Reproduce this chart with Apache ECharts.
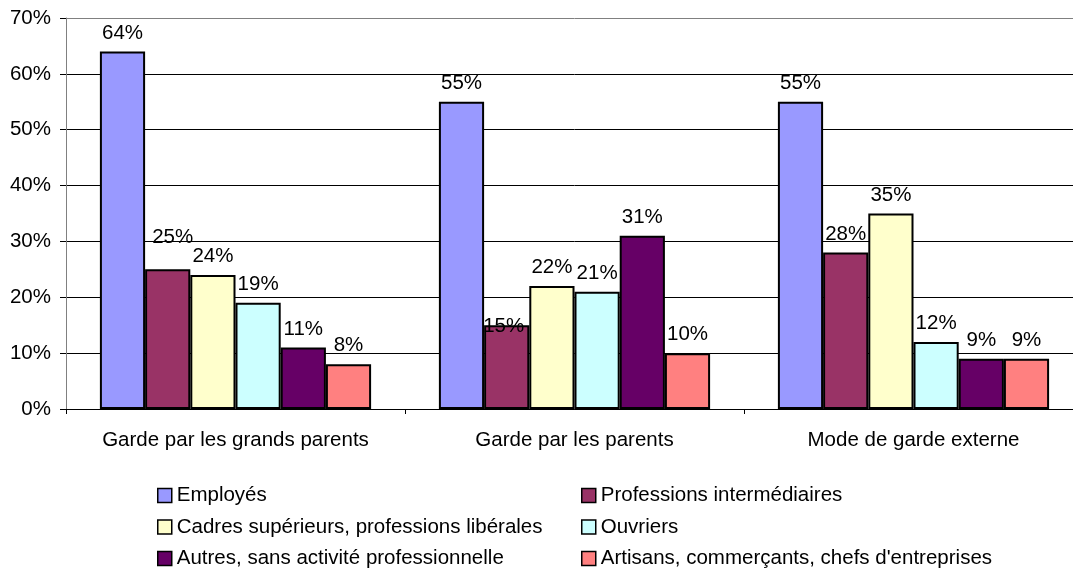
<!DOCTYPE html>
<html>
<head>
<meta charset="utf-8">
<title>Mode de garde selon la catégorie socioprofessionnelle</title>
<script src="https://cdn.jsdelivr.net/npm/echarts@6/dist/echarts.min.js"></script>
<style>
  html, body { margin: 0; padding: 0; background: #fff; overflow: hidden; }
  /* the plot area runs a little past the right edge of the window */
  #chart { width: 1083px; height: 569px; }
</style>
</head>
<body>
<div id="chart"></div>
<script>
// Modes de garde (catégories de l'axe horizontal)
const categories = ['Garde par les grands parents', 'Garde par les parents', 'Mode de garde externe'];

// Part de chaque catégorie socioprofessionnelle (en %)
const employes = [64, 55, 55];
const professionsIntermediaires = [25, 15, 28];
const cadresSuperieurs = [24, 22, 35];
const ouvriers = [19, 21, 12];
const autresSansActivite = [11, 31, 9];
const artisansCommercants = [8, 10, 9];

const seriesNames = [
  'Employés',
  'Professions intermédiaires',
  'Cadres supérieurs, professions libérales',
  'Ouvriers',
  'Autres, sans activité professionnelle',
  "Artisans, commerçants, chefs d'entreprises"
];
const seriesValues = [employes, professionsIntermediaires, cadresSuperieurs, ouvriers, autresSansActivite, artisansCommercants];
const seriesColors = ['#9999FF', '#993366', '#FFFFCC', '#CCFFFF', '#660066', '#FF8080'];

// Valeurs de l'axe vertical
const yTicks = [0, 10, 20, 30, 40, 50, 60, 70];

// Quelques étiquettes déplacées pour éviter les chevauchements : [série, catégorie, dx, dy]
const labelShifts = [
  [1, 0, 5, -14],
  [1, 1, -3, 20]
];

const FONT = '"Liberation Sans", Arial, sans-serif';
const FONT_SIZE = 20.5;

const series = seriesNames.map((name, s) => ({
  name: name,
  type: 'bar',
  barGap: '0%',
  barCategoryGap: '20%',
  itemStyle: { color: seriesColors[s], borderColor: '#000', borderWidth: 2 },
  label: {
    show: true,
    position: 'top',
    distance: 8,
    formatter: '{c}%',
    color: '#000',
    fontFamily: FONT,
    fontSize: FONT_SIZE
  },
  data: seriesValues[s].map((v, c) => {
    const shift = labelShifts.find(t => t[0] === s && t[1] === c);
    return shift ? { value: v, label: { offset: [shift[2], shift[3]] } } : v;
  })
}));

const legendCommon = {
  orient: 'vertical',
  top: 485,
  height: 84,
  padding: 0,
  itemWidth: 14,
  itemHeight: 14,
  itemGap: 10.5,
  icon: 'rect',
  itemStyle: { borderColor: '#000', borderWidth: 1.5 },
  textStyle: { color: '#000', fontFamily: FONT, fontSize: FONT_SIZE, lineHeight: 20 }
};

const option = {
  animation: false,
  backgroundColor: '#fff',
  textStyle: { fontFamily: FONT },
  grid: { left: 66, top: 18, right: 0, height: 391, containLabel: false },
  legend: [
    Object.assign({ left: 157, data: [seriesNames[0], seriesNames[2], seriesNames[4]] }, legendCommon),
    Object.assign({ left: 581, data: [seriesNames[1], seriesNames[3], seriesNames[5]] }, legendCommon)
  ],
  xAxis: {
    type: 'category',
    data: categories,
    axisLine: { lineStyle: { color: '#000', width: 1 } },
    axisTick: { show: true, length: 5, lineStyle: { color: '#000' } },
    axisLabel: { color: '#000', fontFamily: FONT, fontSize: FONT_SIZE, margin: 21, interval: 0 }
  },
  yAxis: {
    type: 'value',
    min: yTicks[0],
    max: yTicks[yTicks.length - 1],
    interval: 10,
    axisLine: { show: true, lineStyle: { color: '#808080', width: 1 } },
    axisTick: { show: true, length: 6, lineStyle: { color: '#000' } },
    axisLabel: { color: '#000', fontFamily: FONT, fontSize: FONT_SIZE, margin: 15, formatter: '{value}%' },
    splitLine: {
      show: true,
      lineStyle: { color: ['#000', '#000', '#000', '#000', '#000', '#000', '#000', '#808080'], width: 1 }
    }
  },
  series: series
};

const chart = echarts.init(document.getElementById('chart'), null, { renderer: 'canvas' });
chart.setOption(option);
</script>
</body>
</html>
